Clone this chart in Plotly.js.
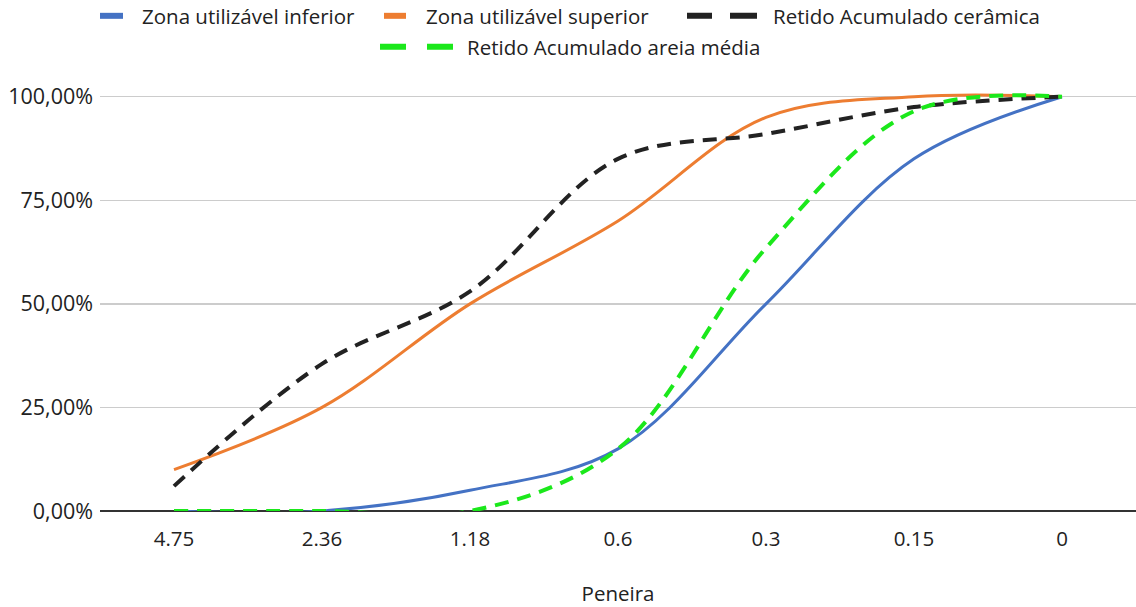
<!DOCTYPE html>
<html><head><meta charset="utf-8">
<script src="https://cdn.plot.ly/plotly-3.0.1.min.js"></script>
<style>html,body{margin:0;padding:0;background:#fff}#chart{width:1136px;height:607px}</style>
</head><body><div id="chart"></div>
<script>
const peneiras = ['4.75','2.36','1.18','0.6','0.3','0.15','0'];
const zonaInferior = [0, 0, 0.05, 0.15, 0.50, 0.85, 1.00];
const zonaSuperior = [0.10, 0.25, 0.50, 0.70, 0.95, 1.00, 1.00];
const retidoCeramica = [0.06, 0.355, 0.53, 0.85, 0.91, 0.975, 1.00];
const retidoAreiaMedia = [0, 0, 0, 0.15, 0.635, 0.965, 1.00];
const yTicks = [0, 0.25, 0.5, 0.75, 1];

const fam = 'Open Sans, Noto Sans, sans-serif';
const legFont = {family: fam, size: 20.5, color: '#222'};
const xFont = {family: fam, size: 20.5, color: '#222'};
const yFont = {family: fam, size: 21.5, color: '#222'};

const traces = [
  {x: peneiras, y: zonaInferior, name: 'Zona utilizável inferior', mode: 'lines',
   line: {color: '#4472C4', width: 3, shape: 'spline', smoothing: 1}, legend: 'legend'},
  {x: peneiras, y: zonaSuperior, name: 'Zona utilizável superior', mode: 'lines',
   line: {color: '#ED7D31', width: 3, shape: 'spline', smoothing: 1}, legend: 'legend2'},
  {x: peneiras, y: retidoCeramica, name: 'Retido Acumulado cerâmica', mode: 'lines',
   line: {color: '#222222', width: 4, shape: 'spline', smoothing: 1, dash: '14px,9px'}, legend: 'legend3'},
  {x: peneiras, y: retidoAreiaMedia, name: 'Retido Acumulado areia média', mode: 'lines',
   line: {color: '#1be81b', width: 4, shape: 'spline', smoothing: 1, dash: '14px,9px'}, legend: 'legend4'}
];
function leg(textX, rowY) {
  return {orientation: 'h', x: (textX - 40) / 1136, xanchor: 'left', xref: 'container',
          y: 1 - rowY / 607, yanchor: 'middle', yref: 'container',
          font: legFont, bgcolor: 'rgba(0,0,0,0)', borderwidth: 0, itemwidth: 30};
}
const layout = {
  width: 1136, height: 607,
  margin: {l: 100, r: 0, t: 76, b: 96, autoexpand: false},
  paper_bgcolor: '#fff', plot_bgcolor: '#fff',
  font: legFont,
  separators: ',.',
  showlegend: true,
  legend: leg(142, 16),
  legend2: leg(426, 16),
  legend3: leg(773, 16),
  legend4: leg(467, 47),
  xaxis: {type: 'category', range: [-0.5, 6.5], showgrid: false, showline: false, zeroline: false,
          ticks: '', tickfont: xFont, ticklabelstandoff: 13, title: {text: 'Peneira', font: legFont, standoff: 44}, fixedrange: true},
  yaxis: {range: [0, 1.05], tickvals: yTicks, tickformat: '.2%', showgrid: true, gridcolor: '#cccccc', gridwidth: 1.5,
          zeroline: true, zerolinecolor: '#333', zerolinewidth: 2, showline: false, ticks: '',
          tickfont: yFont, ticklabelstandoff: 6, fixedrange: true}
};
Plotly.newPlot('chart', traces, layout, {displayModeBar: false, staticPlot: true}).then(function (gd) {
  // legend swatches drawn as blocks, like the reference
  gd.querySelectorAll('.scrollbox').forEach(function (s) { s.removeAttribute('clip-path'); });
  const shapes = {legend: 'M-2,0h23', legend2: 'M-2,0h22', legend3: 'M-46,0h25M-3,0h27', legend4: 'M-47,0h26M0,0h26'};
  Object.keys(shapes).forEach(function (k) {
    gd.querySelectorAll('g.' + k + ' .legendlines path').forEach(function (p) {
      p.setAttribute('d', shapes[k]);
      p.style.setProperty('stroke-width', '6px', 'important');
      p.style.setProperty('stroke-dasharray', 'none', 'important');
      p.style.setProperty('stroke-linecap', 'butt', 'important');
    });
  });
});
</script></body></html>
